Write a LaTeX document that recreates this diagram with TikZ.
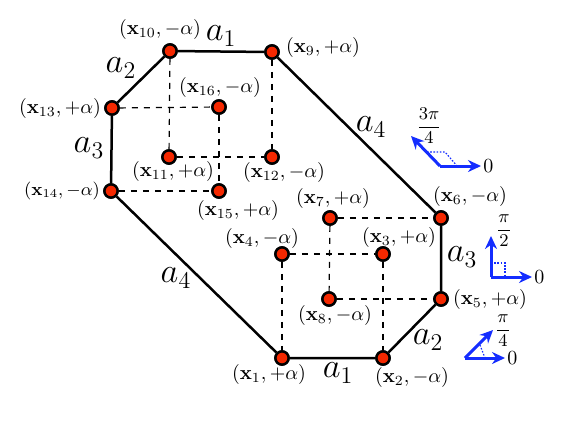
\documentclass[tikz,border=0pt]{standalone}
\usepackage{amsmath}
\usetikzlibrary{arrows.meta,calc}

\definecolor{dotred}{RGB}{245,40,0}
\definecolor{dirblue}{RGB}{20,45,255}

\begin{document}
\begin{tikzpicture}[
    x=0.5pt, y=-0.5pt,
    pt/.style={
        draw, circle, fill=dotred, line width=1.2pt,
        minimum size=6.6pt, inner sep=0pt
    },
    edge/.style={line width=1.25pt},
    link/.style={dashed, line width=0.6pt},
    tag/.style={inner sep=0pt},
    side/.style={font=\LARGE, inner sep=0pt},
    dir/.style={-{Stealth[length=6.5pt,width=6pt]}, line width=1.5pt, draw=dirblue},
    guide/.style={dash pattern=on 0.8pt off 0.8pt, draw=dirblue, line width=0.6pt}
]

\useasboundingbox (0,0) rectangle (581,424);

% ============================== POINTS ==============================
% upper left group
\node[pt] (v10) at (170,51) {};
\node[pt] (v9) at (272,52) {};
\node[pt] (v13) at (112,108) {};
\node[pt] (v16) at (219,107) {};
\node[pt] (v11) at (169,157) {};
\node[pt] (v12) at (272,157) {};
\node[pt] (v14) at (111,191) {};
\node[pt] (v15) at (219,191) {};

% lower right group
\node[pt] (v7) at (330,218) {};
\node[pt] (v6) at (441,218) {};
\node[pt] (v4) at (282,254) {};
\node[pt] (v3) at (383,254) {};
\node[pt] (v8) at (329,299) {};
\node[pt] (v5) at (441,299) {};
\node[pt] (v1) at (282,358) {};
\node[pt] (v2) at (383,358) {};

% ============================== LINKS ==============================
% dashed grid
\draw[link] (v10) -- (v11);
\draw[link] (v9) -- (v12);
\draw[link] (v11) -- (v12);
\draw[link] (v13) -- (v16);
\draw[link] (v16) -- (v15);
\draw[link] (v14) -- (v15);
\draw[link] (v7) -- (v6);
\draw[link] (v7) -- (v8);
\draw[link] (v8) -- (v5);
\draw[link] (v4) -- (v3);
\draw[link] (v4) -- (v1);
\draw[link] (v3) -- (v2);

% octagon
\draw[edge] (v10) -- (v9) -- (v6) -- (v5) -- (v2) -- (v1) -- (v14) -- (v13) -- (v10);

% redraw points on top
\foreach \v in {v1,v2,v3,v4,v5,v6,v7,v8,v9,v10,v11,v12,v13,v14,v15,v16}
    \draw[fill=dotred, line width=1.2pt] (\v.center) circle (3.3pt);

% ============================== LABELS ==============================
\node[tag] (l10) at (160,29) {$(\mathbf{x}_{10},-\alpha)$};
\node[tag] (l9) at (323,47) {$(\mathbf{x}_{9},+\alpha)$};
\node[tag] (l13) at (60,108) {$(\mathbf{x}_{13},+\alpha)$};
\node[tag] (l16) at (220,87) {$(\mathbf{x}_{16},-\alpha)$};
\node[tag] (l11) at (173,171) {$(\mathbf{x}_{11},+\alpha)$};
\node[tag] (l12) at (284,172) {$(\mathbf{x}_{12},-\alpha)$};
\node[tag, font=\small] (l14) at (62,191) {$(\mathbf{x}_{14},-\alpha)$};
\node[tag] (l15) at (238,210) {$(\mathbf{x}_{15},+\alpha)$};
\node[tag] (l7) at (333,198) {$(\mathbf{x}_{7},+\alpha)$};
\node[tag] (l6) at (470,196) {$(\mathbf{x}_{6},-\alpha)$};
\node[tag] (l4) at (262,238) {$(\mathbf{x}_{4},-\alpha)$};
\node[tag] (l3) at (399,237) {$(\mathbf{x}_{3},+\alpha)$};
\node[tag] (l8) at (335,315) {$(\mathbf{x}_{8},-\alpha)$};
\node[tag] (l5) at (490,299) {$(\mathbf{x}_{5},+\alpha)$};
\node[tag] (l1) at (269,374) {$(\mathbf{x}_{1},+\alpha)$};
\node[tag] (l2) at (412,377) {$(\mathbf{x}_{2},-\alpha)$};

% side lengths
\node[side] (s1a) at (221,36) {$a_1$};
\node[side] (s2a) at (121,68) {$a_2$};
\node[side] (s3a) at (89,148) {$a_3$};
\node[side] (s4a) at (371,127) {$a_4$};
\node[side] (s4b) at (176,278) {$a_4$};
\node[side] (s3b) at (462,257) {$a_3$};
\node[side] (s2b) at (428,340) {$a_2$};
\node[side] (s1b) at (338,373) {$a_1$};

% ============================== DIRECTIONS ==============================
% 3pi/4
\coordinate (o1) at (440,166);
\coordinate (h1) at (481,166);
\coordinate (d1) at (411,136);
\node[right, inner sep=1pt] (z1) at (h1) {$0$};
\node[font=\small, inner sep=0pt] (f1) at (429,126) {$\dfrac{3\pi}{4}$};
\draw[guide] (427,152) -- (445,152) -- (457,166);
\draw[dir] (o1) -- (h1);
\draw[dir] (o1) -- (d1);

% pi/2
\coordinate (o2) at (491,277);
\coordinate (h2) at (532,277);
\coordinate (d2) at (491,236);
\node[right, inner sep=1pt] (z2) at (h2) {$0$};
\node[font=\small, inner sep=0pt] (f2) at (504,231) {$\dfrac{\pi}{2}$};
\draw[guide] (491,263) -- (505,263) -- (505,277);
\draw[dir] (o2) -- (h2);
\draw[dir] (o2) -- (d2);

% pi/4
\coordinate (o3) at (465,358);
\coordinate (h3) at (505,358);
\coordinate (d3) at (493,330);
\node[right, inner sep=1pt] (z3) at (h3) {$0$};
\node[font=\small, inner sep=0pt] (f3) at (503,331) {$\dfrac{\pi}{4}$};
\draw[guide] (480,345) -- (485,358);
\draw[dir] (o3) -- (h3);
\draw[dir] (o3) -- (d3);

\end{tikzpicture}
\end{document}
